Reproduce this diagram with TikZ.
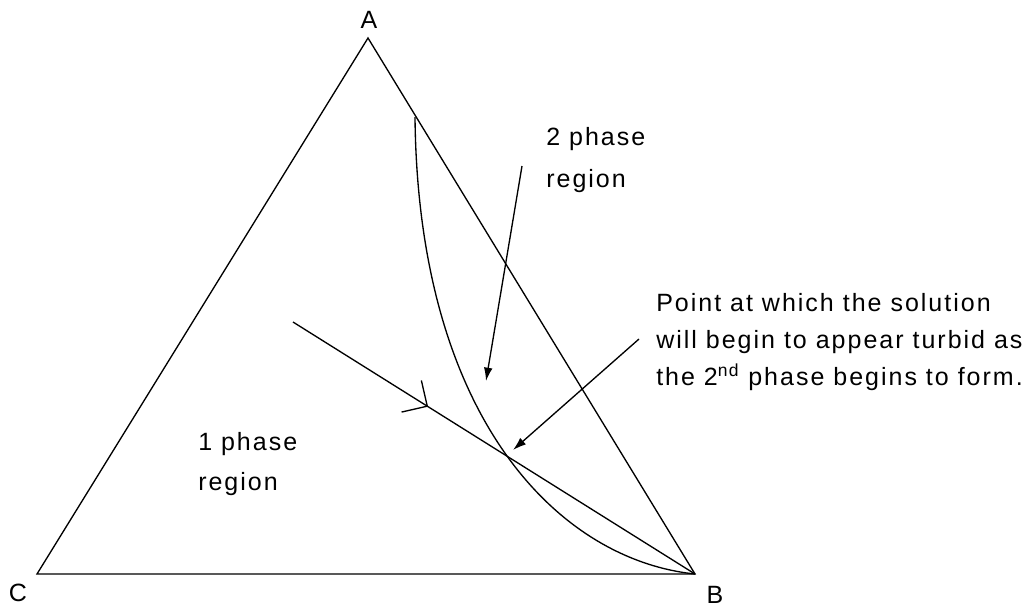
\documentclass[tikz,border=0pt]{standalone}
\usepackage{fontspec}
\setmainfont{Liberation Sans}[LetterSpace=8]
\usetikzlibrary{arrows.meta, decorations.markings}

\tikzset{
  edge/.style={line width=1pt},
  pointer/.style={line width=1pt, -{Latex[length=10pt,width=6.5pt]}},
  midarrow/.style={postaction={decorate}, decoration={markings,
      mark=at position 0.336 with {\arrow{Straight Barb[length=14pt,width=28pt,line width=1pt]}}}},
  vlabel/.style={font=\fontsize{18.75}{22}\selectfont, inner sep=0pt},
  note/.style={font=\fontsize{18.75}{#1}\selectfont, align=left, inner sep=0pt, anchor=base west},
}

\begin{document}
\begin{tikzpicture}[x=0.75pt, y=-0.75pt]
    \useasboundingbox (0,0) rectangle (1031,608);

    % corners of the triangle
    \coordinate (A) at (368,38);
    \coordinate (B) at (695,574);
    \coordinate (C) at (37,574);
    \coordinate (top) at (415,117);
    \coordinate (start) at (293,322);

    \node (lA) [vlabel] at (369,20) {A};
    \node (lB) [vlabel] at (715,595) {B};
    \node (lC) [vlabel] at (18,593) {C};

    \draw [edge] (A) -- (B) -- (C) -- cycle;

    % phase boundary
    \draw [edge] (top) .. controls (418,420) and (560,560) .. (B);

    % dilution path
    \draw [edge, midarrow] (start) -- (B);

    % labels (anchored on the last line)
    \node (two) [note=31.5pt] at (546,187) {2 phase\\region};
    \node (one) [note=30pt] at (198,490) {1 phase\\region};
    \node (turbid) [note=27.5pt] at (656,385) {Point at which the solution\\will begin to appear turbid as\\the 2\textsuperscript{nd} phase begins to form.};

    \coordinate (twotail) at (522,166);
    \coordinate (twohead) at (486,381);
    \coordinate (turbidtail) at (639,339);
    \coordinate (turbidhead) at (513,450);
    \draw [pointer] (twotail) -- (twohead);
    \draw [pointer] (turbidtail) -- (turbidhead);
\end{tikzpicture}
\end{document}
